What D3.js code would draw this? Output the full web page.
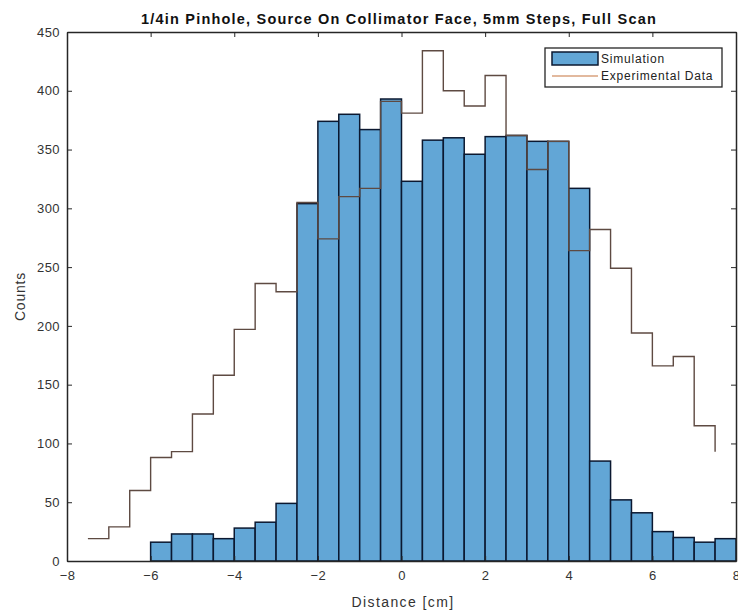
<!DOCTYPE html>
<html>
<head>
<meta charset="utf-8">
<script src="https://cdn.jsdelivr.net/npm/d3@7/dist/d3.min.js"></script>
<style>
  html, body { margin: 0; padding: 0; background: #fff; }
  svg { display: block; font-family: "Liberation Sans", Arial, Helvetica, sans-serif; }
</style>
</head>
<body>
<svg id="chart" width="738" height="616"></svg>
<script>
// Simulated histogram: 0.5 cm bins, left edges from -6 cm to 7.5 cm
const simBinStarts = [-6, -5.5, -5, -4.5, -4, -3.5, -3, -2.5, -2, -1.5, -1, -0.5,
  0, 0.5, 1, 1.5, 2, 2.5, 3, 3.5, 4, 4.5, 5, 5.5, 6, 6.5, 7, 7.5];
const simCounts = [16, 23, 23, 19, 28, 33, 49, 304, 374, 380, 367, 393,
  323, 358, 360, 346, 361, 362, 357, 357, 317, 85, 52, 41, 25, 20, 16, 19];
const binWidth = 0.5;

// Measured scan, drawn as a staircase (each value holds until the next position)
const expPositions = [-7.5, -7, -6.5, -6, -5.5, -5, -4.5, -4, -3.5, -3, -2.5, -2, -1.5, -1, -0.5,
  0, 0.5, 1, 1.5, 2, 2.5, 3, 3.5, 4, 4.5, 5, 5.5, 6, 6.5, 7, 7.5];
const expCounts = [19, 29, 60, 88, 93, 125, 158, 197, 236, 229, 305, 274, 310, 317, 391,
  381, 434, 400, 387, 413, 362, 333, 357, 264, 282, 249, 194, 166, 174, 115, 93];

const xTicks = [-8, -6, -4, -2, 0, 2, 4, 6, 8];
const yTicks = [0, 50, 100, 150, 200, 250, 300, 350, 400, 450];

const titleText = "1/4in Pinhole, Source On Collimator Face, 5mm Steps, Full Scan";
const xLabel = "Distance [cm]";
const yLabel = "Counts";
const legendLabels = ["Simulation", "Experimental Data"];

const svg = d3.select("#chart");
const plotL = 67, plotR = 736, plotT = 32, plotB = 561;

const x = d3.scaleLinear().domain([-8, 8]).range([plotL, plotR]);
const y = d3.scaleLinear().domain([0, 450]).range([plotB, plotT]);

const barFill = "#62a6d6";
const barEdge = "#0b1830";
const expColor = "#5e4a42";
const axisColor = "#262626";

// Bars
svg.append("g")
  .selectAll("rect")
  .data(simBinStarts.map((s, i) => ({ s, v: simCounts[i] })))
  .join("rect")
  .attr("x", d => x(d.s))
  .attr("width", d => x(d.s + binWidth) - x(d.s))
  .attr("y", d => y(d.v))
  .attr("height", d => y(0) - y(d.v))
  .attr("fill", barFill)
  .attr("stroke", barEdge)
  .attr("stroke-width", 1.5);

// Staircase of measured counts
const stairPts = [];
expPositions.forEach((p, i) => {
  if (i > 0) stairPts.push([p, expCounts[i - 1]]);
  stairPts.push([p, expCounts[i]]);
});
svg.append("path")
  .attr("d", d3.line().x(d => x(d[0])).y(d => y(d[1]))(stairPts))
  .attr("fill", "none")
  .attr("stroke", expColor)
  .attr("stroke-width", 1.4);

// Axes: ticks point inward on all four sides, box closed
const tickLen = 5;
const axB = svg.append("g").attr("transform", `translate(0,${plotB})`)
  .call(d3.axisBottom(x).tickValues(xTicks).tickSizeInner(-tickLen).tickSizeOuter(0).tickPadding(10).tickFormat(d3.format("d")));
const axT = svg.append("g").attr("transform", `translate(0,${plotT})`)
  .call(d3.axisTop(x).tickValues(xTicks).tickSizeInner(-tickLen).tickSizeOuter(0).tickFormat(""));
const axL = svg.append("g").attr("transform", `translate(${plotL},0)`)
  .call(d3.axisLeft(y).tickValues(yTicks).tickSizeInner(-tickLen).tickSizeOuter(0).tickPadding(7).tickFormat(d3.format("d")));
const axR = svg.append("g").attr("transform", `translate(${plotR},0)`)
  .call(d3.axisRight(y).tickValues(yTicks).tickSizeInner(-tickLen).tickSizeOuter(0).tickFormat(""));

[axB, axT, axL, axR].forEach(g => {
  g.selectAll("path.domain").attr("stroke", axisColor).attr("stroke-width", 1.5);
  g.selectAll(".tick line").attr("stroke", axisColor).attr("stroke-width", 1);
  g.selectAll("text").attr("fill", "#333").style("font-size", "13px")
    .style("letter-spacing", "0.4px")
    .style("font-family", "'Liberation Sans', Arial, sans-serif");
});

// Title and axis labels
svg.append("text")
  .attr("x", 399).attr("y", 24)
  .attr("text-anchor", "middle")
  .style("font-size", "14.5px").style("font-weight", "bold")
  .style("letter-spacing", "1.2px")
  .attr("fill", "#111")
  .text(titleText);

svg.append("text")
  .attr("x", 403).attr("y", 607)
  .attr("text-anchor", "middle")
  .style("font-size", "14px")
  .style("letter-spacing", "1.4px")
  .attr("fill", "#333")
  .text(xLabel);

svg.append("text")
  .attr("transform", `translate(25,${(plotT + plotB) / 2}) rotate(-90)`)
  .attr("text-anchor", "middle")
  .style("font-size", "14px")
  .style("letter-spacing", "0.8px")
  .attr("fill", "#333")
  .text(yLabel);

// Legend
const lg = svg.append("g").attr("transform", "translate(545,48)");
lg.append("rect").attr("width", 177).attr("height", 39)
  .attr("fill", "#fff").attr("stroke", axisColor).attr("stroke-width", 1.3);
lg.append("rect").attr("x", 7).attr("y", 4).attr("width", 46).attr("height", 13)
  .attr("fill", barFill).attr("stroke", barEdge).attr("stroke-width", 1.5);
lg.append("line").attr("x1", 7).attr("x2", 53).attr("y1", 28).attr("y2", 28)
  .attr("stroke", "#d9a27e").attr("stroke-width", 1.3);
lg.selectAll("text.lab").data(legendLabels).join("text")
  .attr("class", "lab")
  .attr("x", 56).attr("y", (d, i) => 15 + i * 17)
  .style("font-size", "12px")
  .style("letter-spacing", "0.8px")
  .attr("fill", "#222")
  .text(d => d);
</script>
</body>
</html>
